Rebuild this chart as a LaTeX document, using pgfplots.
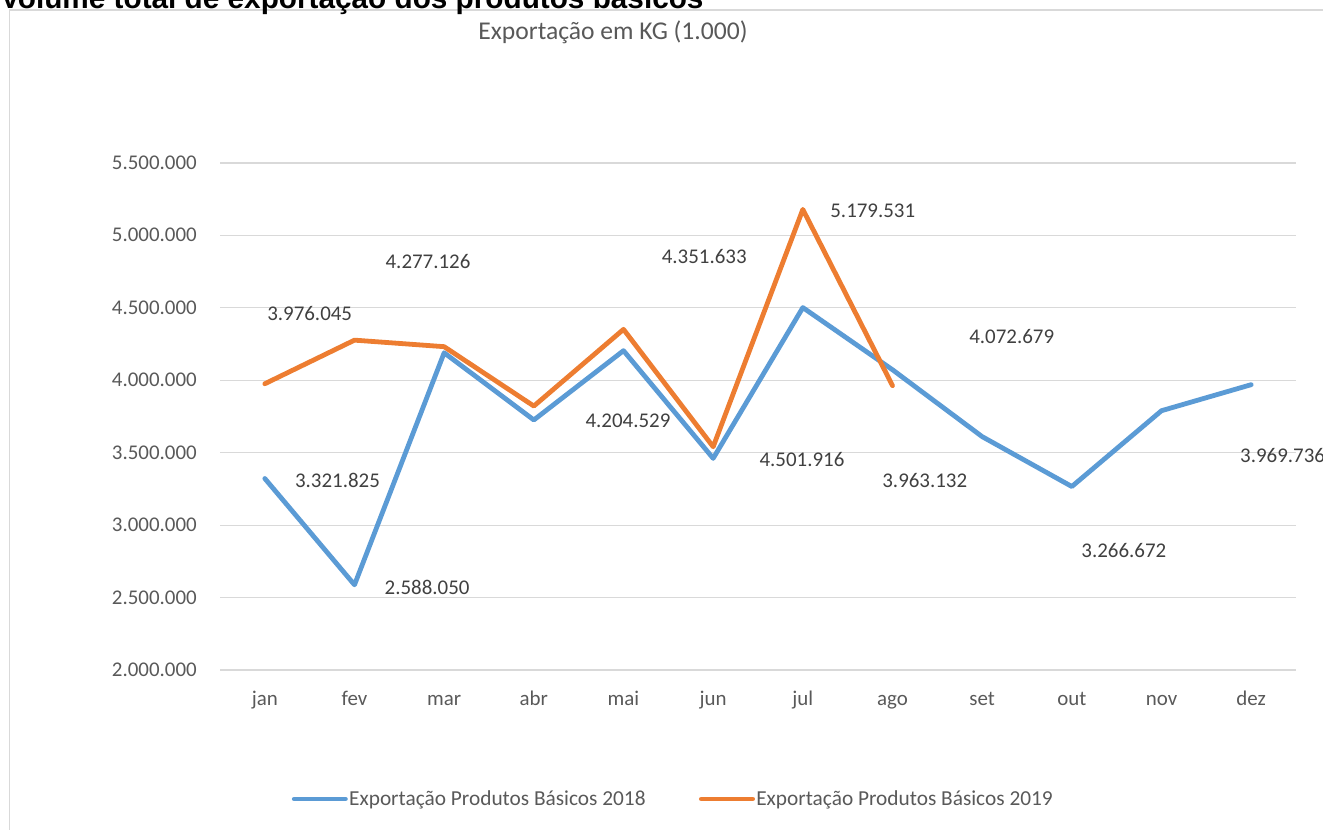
\documentclass[border=0pt]{standalone}
\usepackage{pgfplots}
\pgfplotsset{compat=1.18}
\usepackage{fontspec}
\setmainfont{Carlito}
\newfontfamily\arial{Liberation Sans}

\definecolor{serie18}{HTML}{5B9BD5}
\definecolor{serie19}{HTML}{ED7D31}
\definecolor{gridc}{HTML}{D9D9D9}
\definecolor{txt}{HTML}{595959}
\definecolor{lbl}{HTML}{404040}

\begin{document}
\begin{tikzpicture}
% 1px = 0.75pt, origin at top-left of the picture
\useasboundingbox (0pt,0pt) rectangle (992.25pt,-622.5pt);
\draw[gridc, line width=1pt] (7.1pt,-640pt) -- (7.1pt,-7.4pt) -- (1000pt,-7.4pt);
\node[anchor=base west, inner sep=0pt, font=\arial\bfseries\fontsize{22.3}{26}\selectfont]
  at (0pt,-6.7pt) {Volume total de exportação dos produtos básicos};
\node[inner sep=0pt, text=txt, font=\fontsize{19.2}{23}\selectfont]
  at (459.75pt,-24pt) {Exportação em KG (1.000)};

\begin{axis}[
    at={(165pt,-502.5pt)}, anchor=south west,
    scale only axis,
    width=807pt, height=380.25pt,
    xmin=-0.5, xmax=11.5,
    ymin=2000000, ymax=5500000,
    xtick={0,...,11},
    xticklabels={jan,fev,mar,abr,mai,jun,jul,ago,set,out,nov,dez},
    ytick={2000000,2500000,3000000,3500000,4000000,4500000,5000000,5500000},
    scaled y ticks=false,
    /pgf/number format/.cd, fixed, precision=0, 1000 sep={.}, assume math mode=true,
    /pgfplots/.cd,
    axis line style={draw=none},
    tick style={draw=none},
    ymajorgrids,
    grid style={gridc, line width=0.9pt},
    tick label style={text=txt, font=\fontsize{15.7}{18}\selectfont, inner sep=0pt},
    yticklabel style={anchor=base east, xshift=-17.25pt, yshift=-4.9pt},
    xticklabel style={anchor=base, yshift=-26.25pt},
    clip=false,
    legend columns=2,
    legend style={at={(0.0665,-0.2544)}, anchor=west, draw=none, fill=none,
        inner sep=0pt, text=txt, font=\fontsize{16}{19}\selectfont,
        nodes={inner sep=0pt},
        /tikz/every odd column/.append style={column sep=1pt},
        /tikz/every even column/.append style={column sep=40pt}},
    legend image code/.code={\draw[#1] (1.8pt,0pt) -- (40.2pt,0pt);},
    every axis plot/.append style={line width=3.6pt, line join=round, line cap=round},
]
\addplot[serie18] coordinates {
    (0,3321825) (1,2588050) (2,4190000) (3,3726000) (4,4204529) (5,3461000)
    (6,4501916) (7,4072679) (8,3611000) (9,3266672) (10,3790000) (11,3969736)
};
\addlegendentry{Exportação Produtos Básicos 2018}
\addplot[serie19] coordinates {
    (0,3976045) (1,4277126) (2,4232000) (3,3822000) (4,4351633) (5,3541000)
    (6,5179531) (7,3963132)
};
\addlegendentry{Exportação Produtos Básicos 2019}

% data labels, placed where the source chart shows them
\begin{scope}[every node/.style={text=lbl, inner sep=0pt, font=\fontsize{15.7}{18}\selectfont}]
\node at (axis cs:0.50,4458000) {3.976.045};
\node at (axis cs:0.81,3312000) {3.321.825};
\node at (axis cs:1.81,2573000) {2.588.050};
\node at (axis cs:1.82,4817000) {4.277.126};
\node at (axis cs:4.05,3719000) {4.204.529};
\node at (axis cs:4.90,4851000) {4.351.633};
\node at (axis cs:5.99,3450000) {4.501.916};
\node at (axis cs:6.78,5169000) {5.179.531};
\node at (axis cs:7.36,3305000) {3.963.132};
\node at (axis cs:8.33,4299000) {4.072.679};
\node at (axis cs:9.58,2828000) {3.266.672};
\node at (axis cs:11.35,3484000) {3.969.736};
\end{scope}
\end{axis}
\end{tikzpicture}
\end{document}
